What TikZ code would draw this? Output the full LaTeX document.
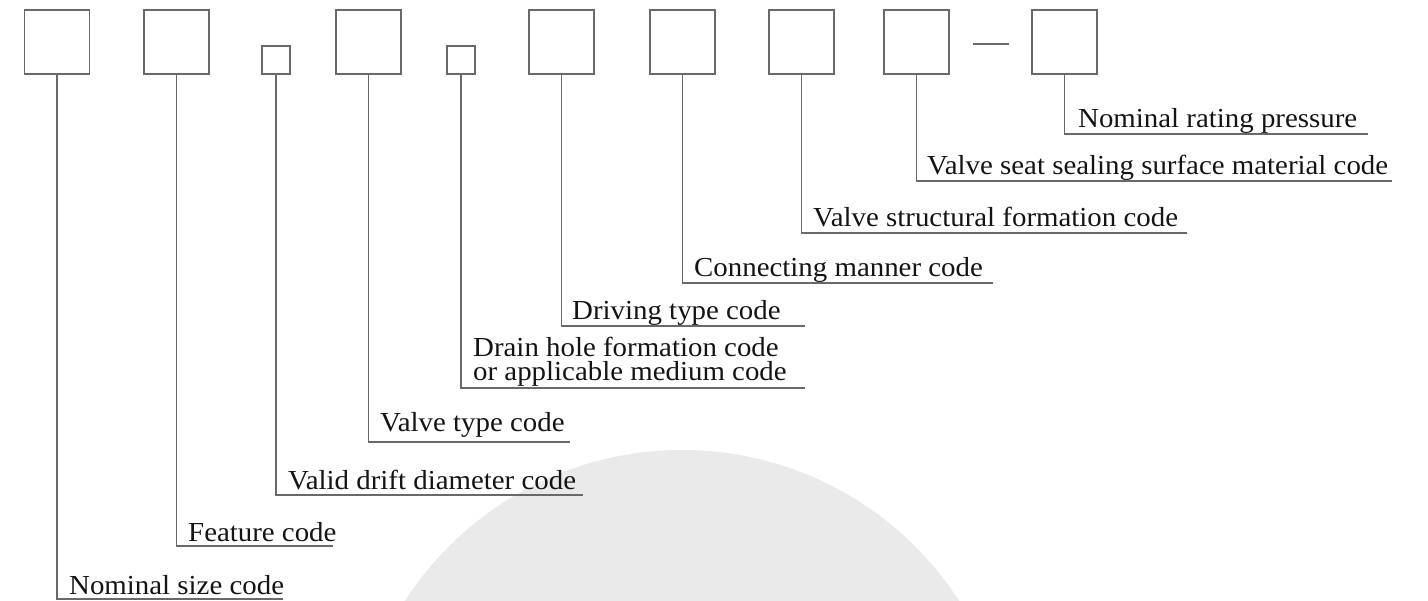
\documentclass[tikz,border=0pt]{standalone}
\usepackage{fontspec}
\setmainfont{Liberation Serif}[FakeStretch=1.05]
\definecolor{linec}{RGB}{105,105,105}
\definecolor{textc}{RGB}{20,20,20}
\definecolor{wm}{RGB}{234,234,234}
\begin{document}
\begin{tikzpicture}[x=1pt,y=-1pt,
  codebox/.style={draw=linec,line width=1.2pt,minimum width=65pt,minimum height=64pt,inner sep=0pt},
  smallbox/.style={draw=linec,line width=1.2pt,minimum width=28pt,minimum height=28pt,inner sep=0pt},
  lbl/.style={anchor=base west,inner sep=0pt,text=textc,font=\fontsize{27.5}{24}\selectfont,align=left},
  lead/.style={draw=linec,line width=1.1pt}]
\useasboundingbox (0,0) rectangle (1428,601);
\fill[wm] (682,780) circle (330);
% boxes
\node[codebox] (b1) at (57,42) {};
\node[codebox] (b2) at (176.5,42) {};
\node[smallbox] (b3) at (276,60) {};
\node[codebox] (b4) at (368.5,42) {};
\node[smallbox] (b5) at (461,60) {};
\node[codebox] (b6) at (561.5,42) {};
\node[codebox] (b7) at (682.5,42) {};
\node[codebox] (b8) at (801.5,42) {};
\node[codebox] (b9) at (916.5,42) {};
\node[codebox] (b10) at (1064.5,42) {};
\coordinate (d1) at (973,44);
\coordinate (d2) at (1009,44);
\draw[lead] (d1) -- (d2);
% line ends
\coordinate (e1) at (283,599);
\coordinate (e2) at (333,546);
\coordinate (e3) at (583,495);
\coordinate (e4) at (570,442);
\coordinate (e5) at (805,388);
\coordinate (e6) at (805,326);
\coordinate (e7) at (993,283);
\coordinate (e8) at (1187,233);
\coordinate (e9) at (1392,181);
\coordinate (e10) at (1368,134);
% labels
\node[lbl] (t1) at (69,594) {Nominal size code};
\node[lbl] (t2) at (188,541) {Feature code};
\node[lbl] (t3) at (288,490) {Valid drift diameter code};
\node[lbl] (t4) at (380,432) {Valve type code};
\node[lbl] (t5) at (473,381) {Drain hole formation code\\or applicable medium code};
\node[lbl] (t6) at (572,320) {Driving type code};
\node[lbl] (t7) at (694,277) {Connecting manner code};
\node[lbl] (t8) at (813,227) {Valve structural formation code};
\node[lbl] (t9) at (927,175) {Valve seat sealing surface material code};
\node[lbl] (t10) at (1078,128) {Nominal rating pressure};
% leaders
\draw[lead] (b1.south) |- (e1);
\draw[lead] (b2.south) |- (e2);
\draw[lead] (b3.south) |- (e3);
\draw[lead] (b4.south) |- (e4);
\draw[lead] (b5.south) |- (e5);
\draw[lead] (b6.south) |- (e6);
\draw[lead] (b7.south) |- (e7);
\draw[lead] (b8.south) |- (e8);
\draw[lead] (b9.south) |- (e9);
\draw[lead] (b10.south) |- (e10);
\end{tikzpicture}
\end{document}
